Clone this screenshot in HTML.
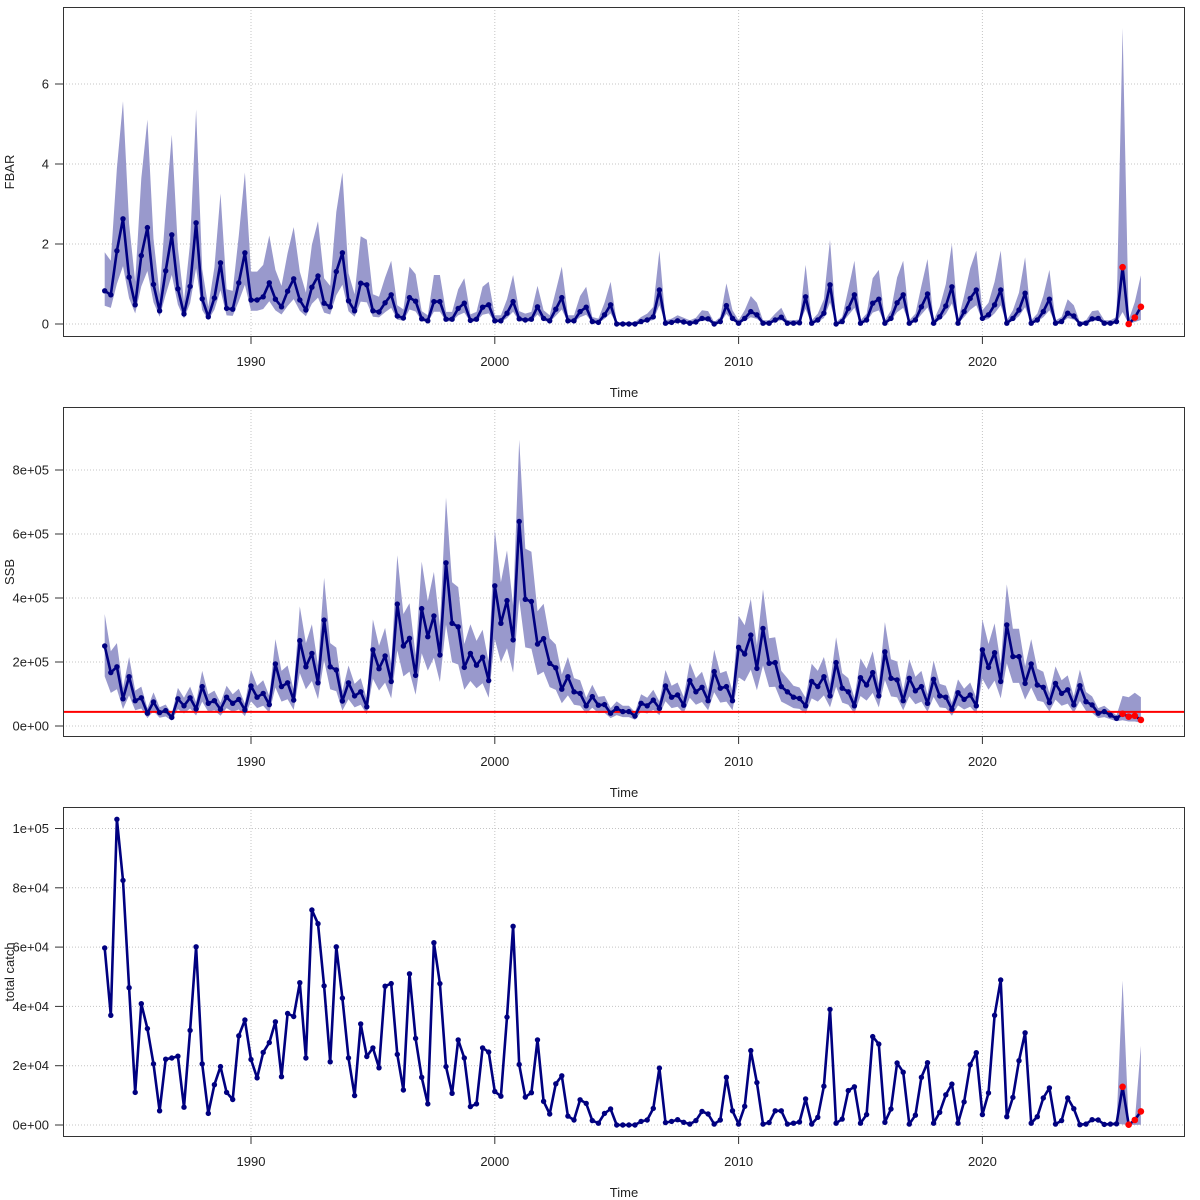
<!DOCTYPE html>
<html><head><meta charset="utf-8"><style>
html,body{margin:0;padding:0;background:#fff;}
svg{display:block;font-family:"Liberation Sans",Arial,sans-serif;}
</style></head><body>
<svg id="chart" width="1200" height="1200" viewBox="0 0 1200 1200" xmlns="http://www.w3.org/2000/svg"></svg>
<script>
const years = [1990, 2000, 2010, 2020];
const startYear = 1984;
const fbarTicks = [0, 2, 4, 6];
const fbarTickLabels = ["0", "2", "4", "6"];
const ssbTicks = [0, 200, 400, 600, 800];
const ssbTickLabels = ["0e+00", "2e+05", "4e+05", "6e+05", "8e+05"];
const catchTicks = [0, 20, 40, 60, 80, 100];
const catchTickLabels = ["0e+00", "2e+04", "4e+04", "6e+04", "8e+04", "1e+05"];
const fbar = [0.83,0.73,1.83,2.63,1.17,0.48,1.71,2.41,0.99,0.33,1.33,2.23,0.88,0.25,0.94,2.53,0.63,0.18,0.65,1.53,0.39,0.37,1.03,1.78,
0.6,0.6,0.68,1.03,0.62,0.43,0.82,1.13,0.6,0.35,0.92,1.2,0.52,0.43,1.31,1.78,0.58,0.33,1.02,0.98,0.33,0.3,0.53,0.73,
0.2,0.15,0.66,0.57,0.13,0.08,0.56,0.56,0.12,0.12,0.39,0.52,0.09,0.12,0.42,0.48,0.08,0.08,0.27,0.56,
0.13,0.1,0.12,0.43,0.14,0.08,0.37,0.66,0.08,0.08,0.31,0.42,0.06,0.04,0.23,0.48,0,0,0,0,0.06,0.1,0.18,0.85,0.02,0.04,0.08,0.05,0.02,0.05,0.14,0.13,0,0.06,0.46,0.14,0.02,0.14,0.31,0.23,0.02,0.02,0.1,0.17,0.02,0.02,0.03,0.68,0.02,0.1,0.27,0.98,
0,0.06,0.39,0.73,0.02,0.1,0.52,0.62,0.02,0.14,0.53,0.73,0.02,0.1,0.43,0.75,0.02,0.18,0.45,0.93,0.02,0.31,0.64,0.85,0.14,0.23,0.48,0.85,0.02,0.14,0.35,0.77,0.02,0.1,0.31,0.62,0.02,0.06,0.27,0.2,0,0.02,0.13,0.14,0.02,0.02,0.06,1.42,0,0.16,0.43];
const fbarFcHi = [7.4, 0.1, 0.55, 1.22];
const fbarFcLo = [0.3, 0, 0.05, 0.1];
const ssbK = [250,167,185,85,154,79,88,40,75,42,48,27,85,63,88,53,123,71,79,52,90,71,83,50,125,90,102,67,194,123,135,81,267,185,227,135,331,185,175,78,135,94,107,60,238,179,219,139,381,250,274,158,367,279,344,222,510,321,310,183,227,190,215,142,438,321,392,269,
639,396,389,256,273,196,182,115,154,107,102,63,92,65,67,40,55,45,45,31,71,63,81,55,125,90,97,65,142,107,121,79,170,118,123,79,246,225,284,180,305,196,198,123,107,90,86,63,139,123,154,94,198,
118,107,63,151,128,167,94,232,149,144,79,149,110,123,71,146,94,90,52,104,83,97,63,238,183,229,139,316,217,217,133,194,128,121,73,133,102,113,66,126,76,66,40,45,34,24,38,29,32,19];
const ssbFcHi = [94, 90, 104, 90];
const ssbFcLo = [18, 14, 14, 10];
const ssbRefK = 44;
const catchK = [59.7,37,103.1,82.5,46.3,11,40.9,32.5,20.6,4.8,22.2,22.6,23.2,6,31.9,60.1,20.6,3.9,13.6,19.7,11,8.6,30.1,35.4,22.1,15.9,24.5,27.8,34.8,16.3,37.6,36.6,48,22.6,72.5,67.9,46.9,21.3,60.1,42.8,22.6,9.9,34.1,23.1,26,19.3,46.8,47.7,23.8,11.8,51,29.2,16.1,7.1,61.5,47.7,19.7,10.7,28.7,22.6,6.2,7.1,26,24.6,11.3,9.7,36.4,67,
20.4,9.4,10.9,28.7,8,3.7,13.9,16.6,3,1.7,8.5,7.3,1.5,0.6,3.9,5.4,0,0,0,0,1.2,1.7,5.6,19.2,0.8,1.2,1.8,0.9,0.3,1.5,4.6,3.7,0.3,1.7,16.1,4.8,0.3,6.3,25.1,14.3,0.3,0.8,4.8,4.8,0.3,0.6,1,8.8,0.3,2.6,13.1,39,
0.6,2,11.6,12.9,0.6,3.5,29.8,27.3,0.9,5.4,20.9,17.8,0.3,3.3,16.1,21,0.6,4.3,10.2,13.8,0.6,7.8,20.3,24.4,3.5,10.8,37,48.9,2.8,9.3,21.7,31.1,0.6,2.8,9.1,12.5,0.3,1.5,9.1,5.5,0.1,0.3,1.8,1.7,0.2,0.3,0.4,12.9,0.1,1.7,4.6];
const catchFcHi = [48.7, 0.3, 1.2, 26.7];
const catchFcLo = [0.2, 0, 0.05, 0.1];
const nForecast = 4;

const NS = "http://www.w3.org/2000/svg";
const svg = document.getElementById("chart");
function mk(tag, attrs, parent) {
  const e = document.createElementNS(NS, tag);
  for (const k in attrs) e.setAttribute(k, attrs[k]);
  (parent || svg).appendChild(e);
  return e;
}
function xScale(t) { return 251 + (t - 1990) * 24.38; }
function tOf(i) { return startYear + i / 4; }

function panel(cfg) {
  const g = mk("g", {});
  
  
  const L = 63, R = 1185, T = cfg.top, B = cfg.bottom;
  const y = cfg.y;
  years.forEach(yr => {
    const gl = mk("line", {x1: xScale(yr), x2: xScale(yr), y1: T, y2: B, stroke: "#c4c4c4", "stroke-width": 1, "stroke-dasharray": "1,2"}, g);
    
    
  });
  cfg.ticks.forEach(v => {
    const gl = mk("line", {x1: L, x2: R, y1: y(v), y2: y(v), stroke: "#c4c4c4", "stroke-width": 1, "stroke-dasharray": "1,2"}, g);
    
    
  });
  const vals = cfg.values, n = vals.length;
  const hiPts = [], loPts = [];
  for (let i = cfg.bandStart; i < n; i++) {
    let hi, lo;
    const f = i - (n - nForecast);
    if (f >= 0) { hi = cfg.fcHi[f]; lo = cfg.fcLo[f]; }
    else { hi = cfg.hi(vals[i]); lo = cfg.lo(vals[i]); }
    hiPts.push(xScale(tOf(i)).toFixed(1) + "," + y(hi).toFixed(1));
    loPts.unshift(xScale(tOf(i)).toFixed(1) + "," + y(lo).toFixed(1));
  }
  const band = mk("polygon", {points: hiPts.concat(loPts).join(" "), fill: "#9999cc", stroke: "none"}, g);
  
  
  if (cfg.ref !== undefined) {
    const rl = mk("line", {x1: L, x2: R, y1: y(cfg.ref), y2: y(cfg.ref), stroke: "#ff0000", "stroke-width": 2}, g);
    
    
  }
  const pts = vals.map((v, i) => xScale(tOf(i)).toFixed(1) + "," + y(v).toFixed(1)).join(" ");
  const pl = mk("polyline", {points: pts, fill: "none", stroke: "#000080", "stroke-width": 2.6, "stroke-linejoin": "round"}, g);
  
  
  vals.forEach((v, i) => {
    const red = i >= n - nForecast;
    const c = mk("circle", {cx: xScale(tOf(i)).toFixed(1), cy: y(v).toFixed(1), r: red ? 3.3 : 2.7, fill: red ? "#ff0000" : "#000080"}, g);
    
    
  });
  const box = mk("rect", {x: L + 0.5, y: T + 0.5, width: R - L - 1, height: B - T - 1, fill: "none", stroke: "#333", "stroke-width": 1}, g);
  
  
  years.forEach(yr => {
    const tk = mk("line", {x1: xScale(yr), x2: xScale(yr), y1: B, y2: B + 7, stroke: "#333"}, g);
    
    
    const tl = mk("text", {x: xScale(yr), y: B + 29, "font-size": 13, "text-anchor": "middle", fill: "#222"}, g);
    tl.textContent = String(yr);
    
    
  });
  const xt = mk("text", {x: 624, y: B + 60, "font-size": 13, "text-anchor": "middle", fill: "#222"}, g);
  xt.textContent = "Time";
  
  
  cfg.ticks.forEach((v, k) => {
    const tk = mk("line", {x1: L - 8, x2: L, y1: y(v), y2: y(v), stroke: "#333"}, g);
    
    
    const tl = mk("text", {x: L - 14, y: y(v) + 4.5, "font-size": 13, "text-anchor": "end", fill: "#222"}, g);
    tl.textContent = cfg.tickLabels[k];
    
    
  });
  const yt = mk("text", {x: 0, y: 0, "font-size": 13, "text-anchor": "middle", fill: "#222", transform: "translate(14," + ((T + B) / 2) + ") rotate(-90)"}, g);
  yt.textContent = cfg.title;
  
  
}

panel({name: "fbar-panel", top: 7, bottom: 337, y: v => 324 - v * 40, ticks: fbarTicks, tickLabels: fbarTickLabels,
  title: "FBAR", values: fbar, bandStart: 0, hi: v => v * 2.1 + 0.05, lo: v => v * 0.55, fcHi: fbarFcHi, fcLo: fbarFcLo});
panel({name: "ssb-panel", top: 407, bottom: 737, y: v => 726 - v / 100 * 32, ticks: ssbTicks, tickLabels: ssbTickLabels,
  title: "SSB", values: ssbK, bandStart: 0, hi: v => v * 1.4, lo: v => v * 0.62, fcHi: ssbFcHi, fcLo: ssbFcLo, ref: ssbRefK});
panel({name: "catch-panel", top: 807, bottom: 1137, y: v => 1125 - v / 10 * 29.65, ticks: catchTicks, tickLabels: catchTickLabels,
  title: "total catch", values: catchK, bandStart: catchK.length - nForecast - 1, hi: v => v, lo: v => v, fcHi: catchFcHi, fcLo: catchFcLo});
</script>
</body></html>
